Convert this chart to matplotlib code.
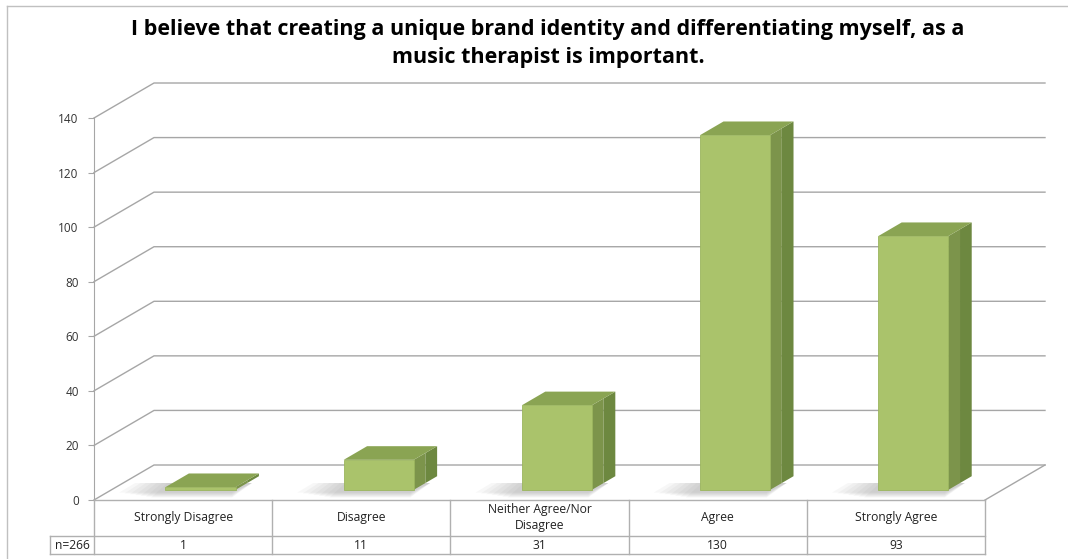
import matplotlib
matplotlib.use("Agg")
import matplotlib.pyplot as plt
from matplotlib.patches import Polygon, Rectangle
from matplotlib.lines import Line2D

categories = ["Strongly Disagree", "Disagree", "Neither Agree/Nor\nDisagree", "Agree", "Strongly Agree"]
counts = [1, 11, 31, 130, 93]
n_label = "n=266"
y_ticks = [0, 20, 40, 60, 80, 100, 120, 140]
title_lines = ["I believe that creating a unique brand identity and differentiating myself, as a",
               "music therapist is important."]

FRONT = "#aac36b"
TOP = "#8aa453"
SIDE_L = "#7c944b"
SIDE_R = "#6d8840"
GRID = "#a6a6a6"
FONT = "Open Sans"

W, H = 1068, 559
fig = plt.figure(figsize=(W / 100, H / 100), dpi=100)

# front plane of the 3D box: x = 94..985 px, y = 118..500 px
ax = fig.add_axes([94 / W, (H - 500) / H, (985 - 94) / W, (500 - 118) / H])
ax.set_xlim(-0.5, 4.5)
ax.set_ylim(0, 140)
for s in ["top", "right", "bottom"]:
    ax.spines[s].set_visible(False)
ax.spines["left"].set_color(GRID)
ax.set_xticks([])
ax.set_yticks(y_ticks)
ax.tick_params(axis="y", length=4, color=GRID, pad=7, labelsize=8.5, labelcolor="#333333")
for lab in ax.get_yticklabels():
    lab.set_family(FONT)

# depth of the floor/walls in data units
DX = 60 / 178.2
DY = 35 / 2.729
x0, x1 = -0.5, 4.5

# back wall gridlines and left wall diagonals
for t in y_ticks:
    ax.plot([x0, x0 + DX, x1 + DX], [t, t + DY, t + DY], color=GRID, lw=1.0, clip_on=False, zorder=1)
# floor right edge
ax.plot([x1, x1 + DX], [0, DY], color=GRID, lw=1.0, clip_on=False, zorder=1)

# bars: front face sits part way into the floor depth
bw = 0.393
f, b = 0.29, 0.68
for i, v in enumerate(counts):
    xl = i - bw / 2 + f * DX
    xr = i + bw / 2 + f * DX
    yb = f * DY
    ddx = (b - f) * DX
    ddy = (b - f) * DY
    # soft shadow on the floor, fading to the left
    for k in range(7):
        g = 0.03 * (7 - k)
        shadow = Polygon([(xl - 0.05 - g, yb - 1.0 - k * 0.3), (xr - 0.02, yb - 1.0 - k * 0.3),
                          (xr + ddx * 0.7, yb + ddy * 0.5), (xl + ddx * 0.3 - g, yb + ddy * 0.5)],
                         closed=True, facecolor="#7a7a7a", edgecolor="none", alpha=0.06,
                         clip_on=False, zorder=2)
        ax.add_patch(shadow)
    # right side face, two tones
    mid = 0.5
    ax.add_patch(Polygon([(xr, yb), (xr + ddx * mid, yb + ddy * mid), (xr + ddx * mid, yb + v + ddy * mid), (xr, yb + v)],
                         closed=True, facecolor=SIDE_L, edgecolor="none", clip_on=False, zorder=3))
    ax.add_patch(Polygon([(xr + ddx * mid, yb + ddy * mid), (xr + ddx, yb + ddy), (xr + ddx, yb + v + ddy),
                          (xr + ddx * mid, yb + v + ddy * mid)],
                         closed=True, facecolor=SIDE_R, edgecolor="none", clip_on=False, zorder=3))
    # top face
    ax.add_patch(Polygon([(xl, yb + v), (xr, yb + v), (xr + ddx, yb + v + ddy), (xl + ddx, yb + v + ddy)],
                         closed=True, facecolor=TOP, edgecolor="none", clip_on=False, zorder=4))
    # front face
    ax.add_patch(Rectangle((xl, yb), bw, v, facecolor=FRONT, edgecolor="#9bb55e", lw=0.6,
                           clip_on=False, zorder=5))

# data table below the plot
tab = fig.add_axes([94 / W, (H - 554) / H, (985 - 94) / W, 54 / H])
tab.set_xlim(-0.5, 4.5)
tab.set_ylim(-54, 0)
tab.axis("off")
row_split = -36
x_left = -0.5 - 44 / 178.2
lkw = dict(color="#b0b0b0", lw=1.0, clip_on=False)
tab.plot([x0, x1], [0, 0], **lkw)
tab.plot([x_left, x1], [row_split, row_split], **lkw)
tab.plot([x_left, x1], [-54, -54], **lkw)
tab.plot([x_left, x_left], [row_split, -54], **lkw)
for k in range(len(categories) + 1):
    tab.plot([x0 + k, x0 + k], [0, -54], **lkw)
tkw = dict(ha="center", va="center", fontsize=8.7, family=FONT, color="#222222")
for i, (c, v) in enumerate(zip(categories, counts)):
    tab.text(i, -18, c, linespacing=1.3, **tkw)
    tab.text(i, -45.5, str(v), **tkw)
tab.text((x_left + x0) / 2, -45.5, n_label, **tkw)

# two-line bold title
for y_px, line in zip([30, 57], title_lines):
    fig.text(548 / W, 1 - y_px / H, line, ha="center", va="center", fontsize=15.5,
             fontweight="bold", family=FONT, color="black")

# chart area border (top and left edges)
fig.add_artist(Line2D([7 / W, 1], [1 - 6 / H, 1 - 6 / H], color="#c0c0c0", lw=1.0))
fig.add_artist(Line2D([7 / W, 7 / W], [0, 1 - 6 / H], color="#c0c0c0", lw=1.0))

fig.savefig("out.png", dpi=100)
